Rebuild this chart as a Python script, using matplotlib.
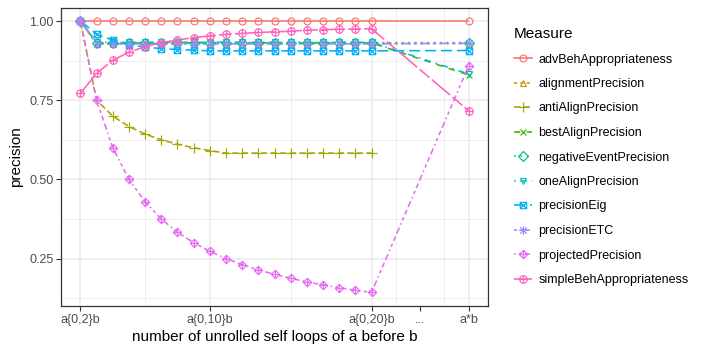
import numpy as np
import matplotlib
matplotlib.use("Agg")
import matplotlib.pyplot as plt
from matplotlib.path import Path
from matplotlib.lines import Line2D

plt.rcParams['font.family'] = ['Liberation Sans', 'DejaVu Sans']

# ---- data ----
loops = list(range(2, 21))            # a{0,n}b for n = 2..20
tick_labels = ['a{0,2}b', 'a{0,10}b', 'a{0,20}b', '...', 'a*b']
nan = np.nan

measures = ['advBehAppropriateness', 'alignmentPrecision', 'antiAlignPrecision',
            'bestAlignPrecision', 'negativeEventPrecision', 'oneAlignPrecision',
            'precisionEig', 'precisionETC', 'projectedPrecision',
            'simpleBehAppropriateness']

advBeh = [1.0] * 19 + [1.0]
alignment = [1.0] + [0.929] * 18 + [0.929]
antiAlign = [1.0, 0.75, 0.70, 0.667, 0.643, 0.625, 0.611, 0.60, 0.591] + [0.583] * 10 + [nan]
bestAlign = [1.0] + [0.931] * 18 + [0.830]
negEvent = [1.0] + [0.932] * 18 + [0.932]
oneAlign = [1.0] + [0.933] * 18 + [0.833]
precEig = [1.0, 0.958, 0.94, 0.925, 0.918, 0.913, 0.91, 0.908] + [0.906] * 11 + [0.907]
precETC = [1.0] + [0.928] * 18 + [0.930]
projected = [1.0, 0.75, 0.6, 0.5, 0.429, 0.375, 0.333, 0.3, 0.273, 0.25, 0.231,
             0.214, 0.2, 0.188, 0.176, 0.167, 0.158, 0.15, 0.143, 0.858]
simpleBeh = [0.772, 0.835, 0.876, 0.902, 0.919, 0.932, 0.940, 0.948, 0.953, 0.958,
             0.961, 0.964, 0.966, 0.968, 0.971, 0.973, 0.974, 0.975, 0.976, 0.717]

series = [advBeh, alignment, antiAlign, bestAlign, negEvent, oneAlign,
          precEig, precETC, projected, simpleBeh]

# ---- scale: numeric positions for the categories ----
gap = 3
x_pos = loops + [loops[-1] + 2 * gap]
tick_pos = [2, 10, 20, 20 + gap, 20 + 2 * gap]

colors = ['#F8766D', '#D89000', '#A3A500', '#39B600', '#00BF7D',
          '#00BFC4', '#00B0F6', '#9590FF', '#E76BF3', '#FF62BC']
dashes = [None, (2, 2), (4, 2), (4, 4), (1, 3), (1, 3, 4, 3), (7, 3),
          (2, 2, 6, 2), (1, 2, 2, 2, 3, 2, 4, 2), (15, 2, 8, 2)]

M, L = Path.MOVETO, Path.LINETO
plus = Path([(-1, 0), (1, 0), (0, -1), (0, 1)], [M, L, M, L])
xcross = Path([(-1, -1), (1, 1), (-1, 1), (1, -1)], [M, L, M, L])
diamond = Path([(0, 1.3), (1.3, 0), (0, -1.3), (-1.3, 0), (0, 1.3)], [M, L, L, L, Path.CLOSEPOLY])
square = Path([(-1, -1), (1, -1), (1, 1), (-1, 1), (-1, -1)], [M, L, L, L, Path.CLOSEPOLY])
sq_x = Path.make_compound_path(square, xcross)
dia_plus = Path.make_compound_path(diamond, Path([(-1.3, 0), (1.3, 0), (0, -1.3), (0, 1.3)], [M, L, M, L]))
circ_plus = Path.make_compound_path(Path.unit_circle(), plus)
ast = Path.make_compound_path(plus, Path([(-0.75, -0.75), (0.75, 0.75), (-0.75, 0.75), (0.75, -0.75)], [M, L, M, L]))
markers = ['o', '^', '+', 'x', 'D', 'v', sq_x, ast, dia_plus, circ_plus]
msizes = [5.0, 5.0, 6.5, 5.0, 4.6, 5.0, 4.6, 6.3, 6.0, 5.4]

fig = plt.figure(figsize=(7.06, 3.53), dpi=100)
ax = fig.add_axes([61 / 706, 1 - 306 / 353, (488 - 61) / 706, (306 - 7.5) / 353])

lw = 1.15
mew = 0.85
handles = []
for i, (name, vals) in enumerate(zip(measures, series)):
    ls_kw = {}
    if dashes[i] is not None:
        ls_kw['dashes'] = dashes[i]
    ax.plot(x_pos, vals, color=colors[i], lw=lw, zorder=2 + i * 0.01,
            solid_capstyle='butt', dash_capstyle='butt', **ls_kw)
    handles.append(Line2D([], [], color=colors[i], lw=lw, marker=markers[i],
                          markersize=msizes[i], markerfacecolor='none',
                          markeredgewidth=mew, label=name, **ls_kw))
for i, vals in enumerate(series):
    ax.plot(x_pos, vals, ls='none', marker=markers[i], markersize=msizes[i],
            markerfacecolor='none', markeredgecolor=colors[i],
            markeredgewidth=mew, zorder=3 + i * 0.01)

# axes limits with 5% expansion
allv = np.array([v for s in series for v in s], dtype=float)
ymin, ymax = np.nanmin(allv), np.nanmax(allv)
yr = ymax - ymin
ax.set_ylim(ymin - 0.05 * yr, ymax + 0.05 * yr)
xr = x_pos[-1] - x_pos[0]
ax.set_xlim(x_pos[0] - 0.05 * xr, x_pos[-1] + 0.05 * xr)

# grid (theme_bw)
grid_c = '#EBEBEB'
for y in [0.25, 0.5, 0.75, 1.0]:
    ax.axhline(y, color=grid_c, lw=1.1, zorder=0)
for y in [0.125, 0.375, 0.625, 0.875]:
    ax.axhline(y, color=grid_c, lw=0.6, zorder=0)
for x in [2, 10, 20, 26]:
    ax.axvline(x, color=grid_c, lw=1.1, zorder=0)
for x in [6, 15, 21.5, 24.5]:
    ax.axvline(x, color=grid_c, lw=0.6, zorder=0)

ax.set_yticks([0.25, 0.5, 0.75, 1.0])
ax.set_yticklabels(['0.25', '0.50', '0.75', '1.00'])
ax.set_xticks(tick_pos)
ax.set_xticklabels(tick_labels)
ax.tick_params(axis='both', colors='#333333', length=3.5, width=0.8,
               labelsize=9, labelcolor='#4D4D4D', pad=2)
for sp in ax.spines.values():
    sp.set_color('#333333')
    sp.set_linewidth(0.9)

ax.set_xlabel('number of unrolled self loops of a before b', fontsize=11, labelpad=3)
ax.set_ylabel('precision', fontsize=11, labelpad=4)

leg = fig.legend(handles=handles, loc='upper left', bbox_to_anchor=(514 / 706, 1 - 27 / 353),
                 frameon=False, fontsize=9, title='Measure', title_fontsize=11,
                 handlelength=1.45, handletextpad=0.5, labelspacing=1.0,
                 borderaxespad=0, borderpad=0)
leg._legend_box.align = 'left'

fig.savefig('out.png', dpi=100)
